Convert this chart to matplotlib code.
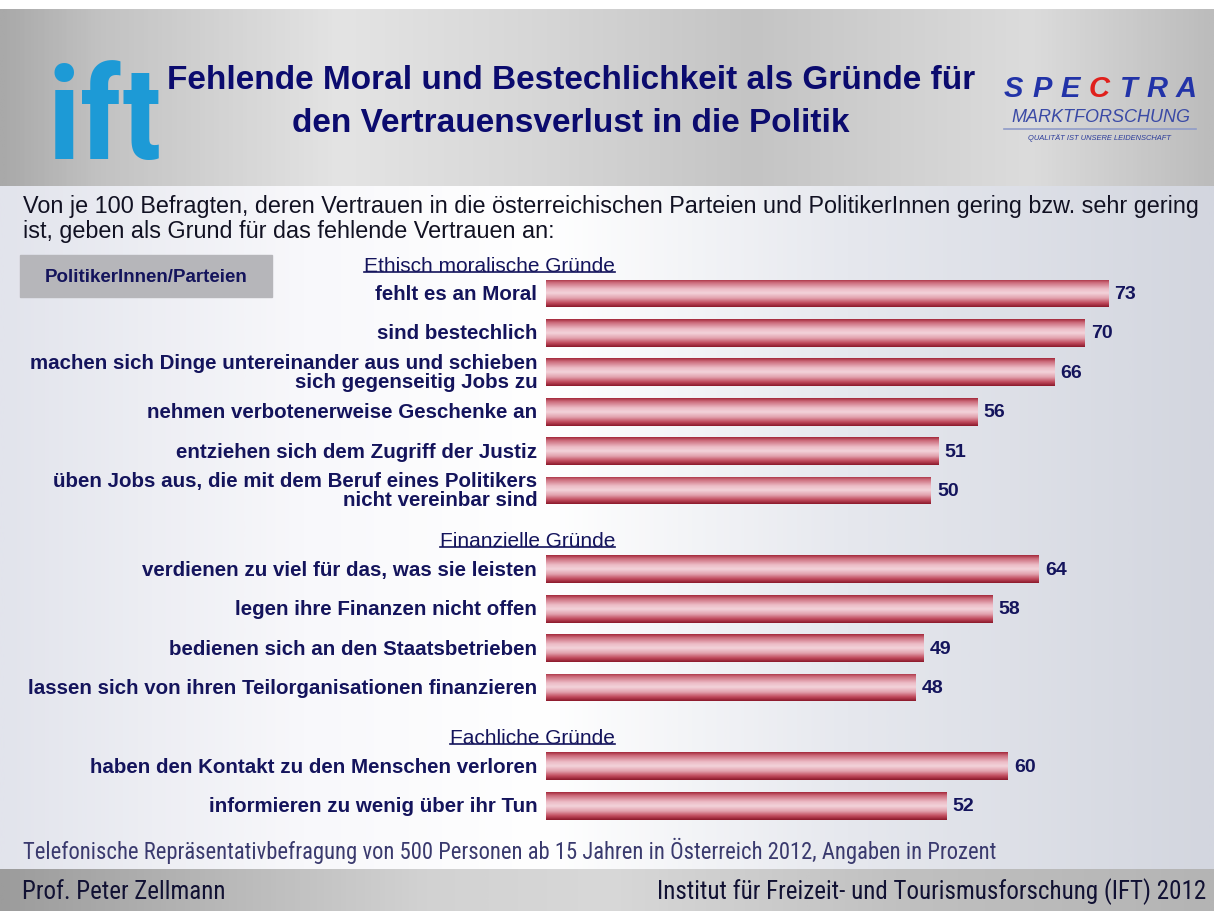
import matplotlib
matplotlib.use("Agg")
import matplotlib.pyplot as plt
import numpy as np
from matplotlib import font_manager
from matplotlib.colors import LinearSegmentedColormap
from matplotlib.patches import Rectangle
from matplotlib.lines import Line2D

# ---- data ----
labels = [
    "fehlt es an Moral",
    "sind bestechlich",
    "machen sich Dinge untereinander aus und schieben\nsich gegenseitig Jobs zu",
    "nehmen verbotenerweise Geschenke an",
    "entziehen sich dem Zugriff der Justiz",
    "üben Jobs aus, die mit dem Beruf eines Politikers\nnicht vereinbar sind",
    "verdienen zu viel für das, was sie leisten",
    "legen ihre Finanzen nicht offen",
    "bedienen sich an den Staatsbetrieben",
    "lassen sich von ihren Teilorganisationen finanzieren",
    "haben den Kontakt zu den Menschen verloren",
    "informieren zu wenig über ihr Tun",
]
values = [73, 70, 66, 56, 51, 50, 64, 58, 49, 48, 60, 52]
groups = ["Ethisch moralische Gründe", "Finanzielle Gründe", "Fachliche Gründe"]
group_sizes = [6, 4, 2]

title_lines = ["Fehlende Moral und Bestechlichkeit als Gründe für",
               "den Vertrauensverlust in die Politik"]
subtitle = ("Von je 100 Befragten, deren Vertrauen in die österreichischen Parteien und PolitikerInnen gering bzw. sehr gering\n"
            "ist, geben als Grund für das fehlende Vertrauen an:")
box_text = "PolitikerInnen/Parteien"
footnote = "Telefonische Repräsentativbefragung von 500 Personen ab 15 Jahren in Österreich 2012, Angaben in Prozent"
footer_left = "Prof. Peter Zellmann"
footer_right = "Institut für Freizeit- und Tourismusforschung (IFT) 2012"

# ---- fonts / colours ----
SANS = "Liberation Sans"
NAVY = "#14145c"
TITLE_C = "#0b0b6e"


def narrow_font(bold):
    # look for an installed condensed face, fall back to Liberation Sans
    prefs = ["liberationsansnarrow", "robotocondensed", "notosans-condensed", "opensans-condensed",
             "dejavusanscondensed", "condensed", "narrow"]
    found = []
    for f in font_manager.fontManager.ttflist:
        base = f.fname.lower().replace(" ", "").replace("_", "").rsplit("/", 1)[-1]
        if ("condensed" not in base and "narrow" not in base) or "italic" in base or "oblique" in base:
            continue
        if any(k in base for k in ("extra", "semi", "light", "black", "medium", "thin")):
            continue
        if ("bold" in base) != bold:
            continue
        for i, p in enumerate(prefs):
            if p in base:
                found.append((i, f.fname))
                break
    if found:
        return font_manager.FontProperties(fname=sorted(found)[0][1])
    return font_manager.FontProperties(family=SANS, weight="bold" if bold else "normal")


NARROW_B = narrow_font(True)
NARROW_R = narrow_font(False)

W, H = 1214, 912


def hgrad(stops, n=600):
    cmap = LinearSegmentedColormap.from_list("g", stops)
    return cmap(np.linspace(0, 1, n))[None, :, :3]


def vgrad(stops, n=64):
    cmap = LinearSegmentedColormap.from_list("g", stops)
    return cmap(np.linspace(0, 1, n))[:, None, :3]


fig = plt.figure(figsize=(W / 100, H / 100), dpi=100)
bg = fig.add_axes([0, 0, 1, 1])
bg.axis("off")

# background bands
bg.add_patch(Rectangle((0, 0), W, H, color="white", zorder=0))
header = hgrad([(0, "#a9a9a9"), (0.08, "#c2c2c2"), (0.28, "#e4e4e4"), (0.45, "#d6d6d6"),
                (0.62, "#c4c4c4"), (0.85, "#dcdcdc"), (1, "#bcbcbc")])
bg.imshow(header, extent=(0, W, 187, 10), aspect="auto", zorder=1)
body = hgrad([(0, "#e2e4ec"), (0.25, "#f8f8fb"), (0.45, "#ffffff"), (0.7, "#e6e8ee"), (1, "#d3d6df")])
bg.imshow(body, extent=(0, W, 870, 187), aspect="auto", zorder=1)
footer = hgrad([(0, "#9c9c9c"), (0.35, "#d2d2d2"), (0.5, "#d8d8d8"), (0.75, "#c0c0c0"), (1, "#b4b4b4")])
bg.imshow(footer, extent=(0, W, H, 870), aspect="auto", zorder=1)
bg.set_xlim(0, W)
bg.set_ylim(H, 0)

# ift logo
bg.text(48, 159, "ift", fontproperties=NARROW_B, fontsize=93, color="#1d9ad6",
        ha="left", va="baseline", zorder=3)

# title
bg.text(571, 89, title_lines[0], fontsize=24, fontweight="bold", family=SANS, color=TITLE_C,
        ha="center", va="baseline", zorder=3)
bg.text(571, 132, title_lines[1], fontsize=24, fontweight="bold", family=SANS, color=TITLE_C,
        ha="center", va="baseline", zorder=3)

# spectra logo
x_letters = np.linspace(1013, 1186, 7)
for ch, xl in zip("SPECTRA", x_letters):
    bg.text(xl, 89, ch, fontsize=21, fontweight="bold", style="italic", family=SANS,
            color="#e0201c" if ch == "C" else "#2233a8", ha="center", va="center", zorder=3)
bg.text(1101, 118, "MARKTFORSCHUNG", fontsize=13, style="italic", family=SANS,
        color="#3a4aa6", ha="center", va="center", zorder=3)
bg.plot([1004, 1196], [130, 130], color="#8f9bc8", lw=1.2, zorder=3)
bg.text(1100, 138, "QUALITÄT IST UNSERE LEIDENSCHAFT", fontsize=5.4, style="italic", family=SANS,
        color="#2a3a9a", ha="center", va="center", zorder=3)

# subtitle
bg.text(23, 219, subtitle, fontsize=16.8, family=SANS, color="#111122",
        ha="left", va="center", linespacing=1.1, zorder=3)

# grey box
bg.add_patch(Rectangle((20, 256), 252, 42, color="#b6b6ba", zorder=2))
bg.text(146, 278, box_text, fontsize=13.5, fontweight="bold", family=SANS, color=NAVY,
        ha="center", va="center", zorder=3)

# footnote + footer
bg.text(23, 851, footnote, fontproperties=NARROW_R, fontsize=16.3, color="#3a3a6e",
        ha="left", va="center", zorder=3)
bg.text(22, 892, footer_left, fontproperties=NARROW_R, fontsize=18, color="#111133",
        ha="left", va="center", zorder=3)
bg.text(1206, 892, footer_right, fontproperties=NARROW_R, fontsize=18, color="#111133",
        ha="right", va="center", zorder=3)

# ---- bar chart ----
X0, PX = 546, 7.7          # bar start (px) and px per percent
SLOT0, SLOT_PX = 294.5, 39.4
TOP, BOT = 250, 850
ax = fig.add_axes([X0 / W, 1 - BOT / H, (W - X0) / W, (BOT - TOP) / H])
ax.axis("off")

slots, group_pos = [], []
s = 0
for n in group_sizes:
    group_pos.append(s)
    slots.extend(range(s, s + n))
    s += n + 1
slots = np.array(slots)

bar_grad = vgrad([(0, "#a52a3c"), (0.12, "#cc6c7c"), (0.35, "#ecbcc6"), (0.5, "#f3d3da"),
                  (0.68, "#e2a2ae"), (0.86, "#c04a5c"), (1, "#8c1a2c")])
bars = ax.barh(slots, values, height=0.71, color="none", edgecolor="none")
for b in bars:
    x, y, w, h = b.get_x(), b.get_y(), b.get_width(), b.get_height()
    im = ax.imshow(bar_grad, extent=(x, x + w, y + h, y), aspect="auto", zorder=2)
    im.set_clip_path(b)

for sl, v, lab in zip(slots, values, labels):
    ax.text(v + 0.8, sl, str(v), fontsize=14, fontweight="bold", family=SANS, color=NAVY,
            ha="left", va="center", zorder=3)
    ax.text(-1.15, sl, lab, fontsize=14.8, fontweight="bold", family=SANS, color=NAVY,
            ha="right", va="center", linespacing=1.0, multialignment="right", zorder=3,
            clip_on=False)

ax.set_xlim(0, (W - X0) / PX)
ax.set_ylim((BOT - SLOT0) / SLOT_PX, (TOP - SLOT0) / SLOT_PX)

heads = []
for g, gp in zip(groups, group_pos):
    t = ax.text((615 - X0) / PX, gp - 0.72, g, fontsize=15, family=SANS, color=NAVY,
                ha="right", va="center", zorder=3, clip_on=False)
    heads.append(t)

# underline the group headings
fig.canvas.draw()
inv = fig.transFigure.inverted()
for t in heads:
    bb = t.get_window_extent()
    (x0, y0), (x1, _) = inv.transform([(bb.x0, bb.y0 + 3), (bb.x1, bb.y0 + 3)])
    fig.add_artist(Line2D([x0, x1], [y0, y0], color=NAVY, lw=1.2, transform=fig.transFigure))

fig.savefig("out.png", dpi=100)
